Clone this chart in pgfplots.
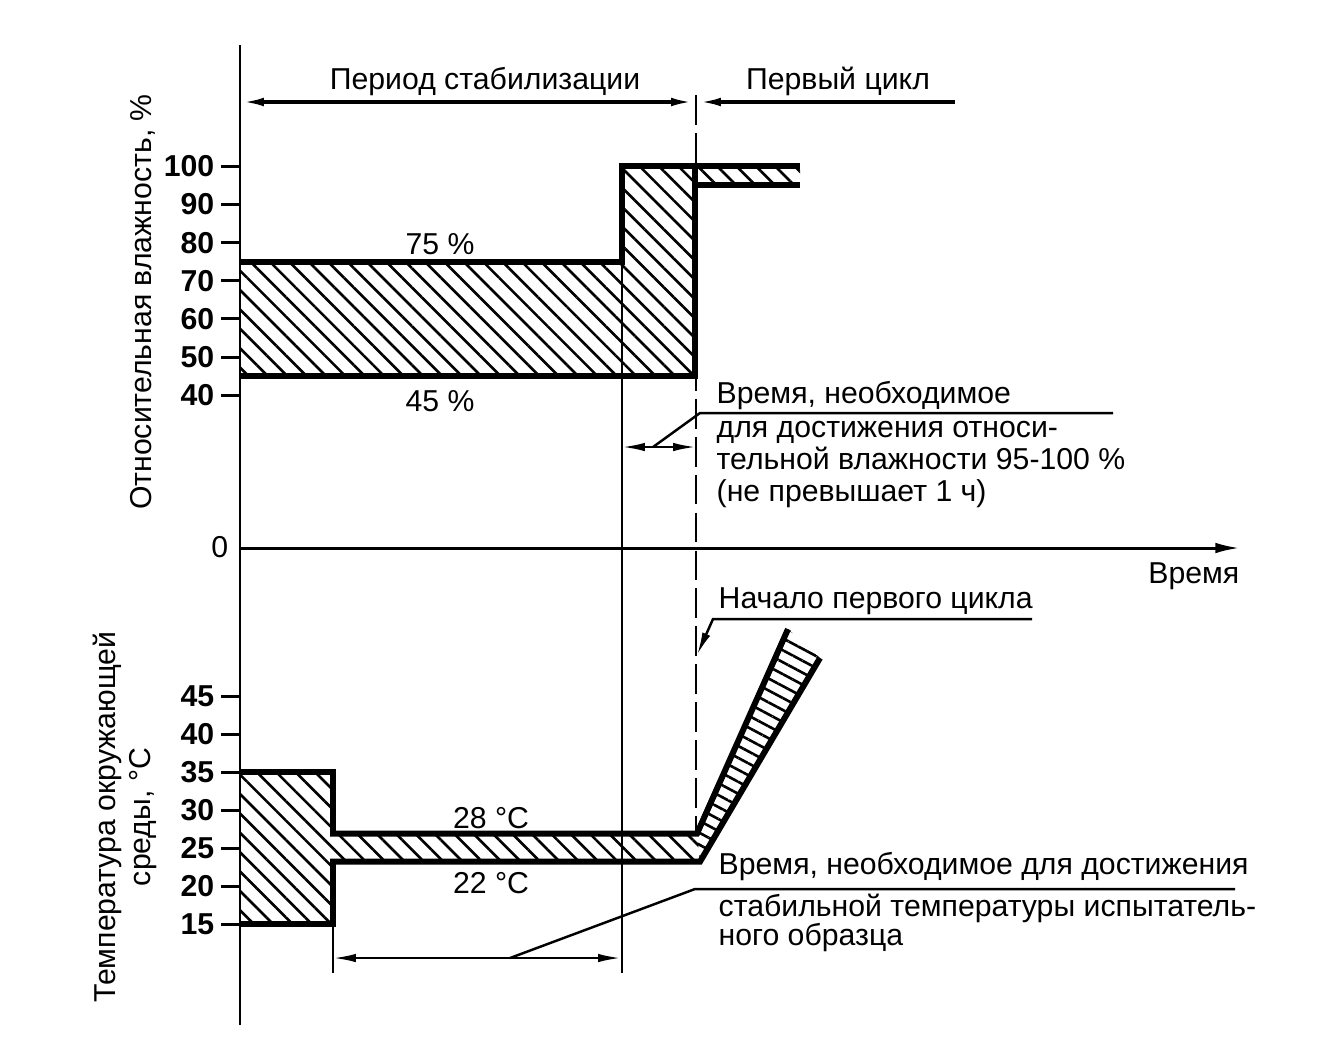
\documentclass[border=0pt]{standalone}
\usepackage{pgfplots}
\pgfplotsset{compat=1.18}
\usepackage{fontspec}
\setmainfont{Liberation Sans}
\usetikzlibrary{arrows.meta,patterns.meta}
\begin{document}
\begin{tikzpicture}[font=\fontsize{8.6}{10}\selectfont,
  thk/.style={line width=1.7pt,line join=miter},
  ax/.style={line width=0.85pt},
  thn/.style={line width=0.7pt},
  hatch/.style={pattern={Lines[angle=-45,distance=3.9pt,line width=0.75pt]}},
  rhatch/.style={pattern={Lines[angle=-28,distance=3.0pt,line width=0.75pt]}},
  >={Latex[length=6.5pt,width=2.4pt]},
  txt/.style={inner sep=0pt,anchor=base west},
  tl/.style={anchor=east,inner sep=0pt,font=\fontsize{8.6}{10}\selectfont\bfseries},
]
\pgfplotsset{base/.style={width=13.25cm,height=10.58cm,scale only axis,hide axis,clip=false,xmin=0,xmax=1325,at={(0,0)},anchor=south west}}

% ---------- relative humidity (upper part), y in %
\begin{axis}[base,ymin=-133.613,ymax=143.568]
\addplot[draw=none,hatch] coordinates {(240,45)(240,75)(622,75)(622,100)(695,100)(695,45)};
\addplot[draw=none,hatch] coordinates {(695,100)(800,100)(800,95)(695,95)};
\addplot[thk] coordinates {(240,75)(622,75)(622,100)(695,100)(695,45)(240,45)};
\addplot[thk] coordinates {(695,100)(800,100)};
\addplot[thk] coordinates {(695,95)(800,95)};
\pgfplotsinvokeforeach{40,50,60,70,80,90,100}{
  \addplot[ax] coordinates {(221,#1)(240,#1)};
  \node[tl] at (axis cs:215,#1) {#1};
}
\end{axis}

% ---------- ambient temperature (lower part), y in degC
\begin{axis}[base,ymin=-2.632,ymax=136.579]
\addplot[draw=none,hatch] coordinates {(240,15)(240,35)(333,35)(333,26.9)(697,26.9)(700,23.2)(333,23.2)(333,15)};
\addplot[draw=none,rhatch] coordinates {(697,26.9)(788,53.8)(820,50.0)(700,23.2)};
\addplot[thk] coordinates {(240,35)(333,35)(333,26.9)(697,26.9)(788,53.8)};
\addplot[thk] coordinates {(240,15)(333,15)(333,23.2)(700,23.2)(820,50.0)};
\pgfplotsinvokeforeach{15,20,25,30,35,40,45}{
  \addplot[ax] coordinates {(221,#1)(240,#1)};
  \node[tl] at (axis cs:215,#1) {#1};
}
\end{axis}

% ---------- annotations (pixel frame)
\begin{axis}[base,ymin=0,ymax=1058,y dir=reverse]
\addplot[ax] coordinates {(240,45)(240,1025)};
\addplot[ax,-{Latex[length=7pt,width=3pt]}] coordinates {(240,548)(1240,548)};
\addplot[line width=1pt,<->] coordinates {(241,102)(694,102)};
\addplot[line width=1pt,<-] coordinates {(698,102)(955,102)};
\addplot[thn,dash pattern=on 8.5pt off 2.3pt] coordinates {(696,95)(696,833)};
\addplot[thn] coordinates {(622,166)(622,973)};
\addplot[thn] coordinates {(333,923)(333,973)};
\addplot[thn,<->] coordinates {(622,447)(696,447)};
\addplot[thn] coordinates {(653,447)(700,413)(1113,413)};
\addplot[thn,->] coordinates {(1032,619)(713,619)(697,655)};
\addplot[thn,<->] coordinates {(333,958)(621,958)};
\addplot[thn] coordinates {(510,958)(695,889)(1235,889)};

\node[anchor=base] at (axis cs:485,89) {Период стабилизации};
\node[anchor=base] at (axis cs:838,89) {Первый цикл};
\node[anchor=base] at (axis cs:440,254) {75 \%};
\node[anchor=base] at (axis cs:440,411) {45 \%};
\node[anchor=base] at (axis cs:491,828) {28 °C};
\node[anchor=base] at (axis cs:491,893) {22 °C};
\node[anchor=east,inner sep=0pt] at (axis cs:229,547) {0};
\node[anchor=base east,inner sep=0pt] at (axis cs:1240,583) {Время};
\node[txt] at (axis cs:716,403) {Время, необходимое};
\node[txt] at (axis cs:716,437) {для достижения относи-};
\node[txt] at (axis cs:716,469) {тельной влажности 95-100 \%};
\node[txt] at (axis cs:716,501) {(не превышает 1 ч)};
\node[txt] at (axis cs:718,608) {Начало первого цикла};
\node[txt] at (axis cs:718,874) {Время, необходимое для достижения};
\node[txt] at (axis cs:718,916) {стабильной температуры испытатель-};
\node[txt] at (axis cs:718,945) {ного образца};
\node[rotate=90] at (axis cs:143,302) {Относительная влажность, \%};
\node[rotate=90,align=center] at (axis cs:125,817) {Температура окружающей\\среды, °C};
\end{axis}
\pgfresetboundingbox
\useasboundingbox (0,0) rectangle (13.25cm,10.58cm);
\end{tikzpicture}
\end{document}
